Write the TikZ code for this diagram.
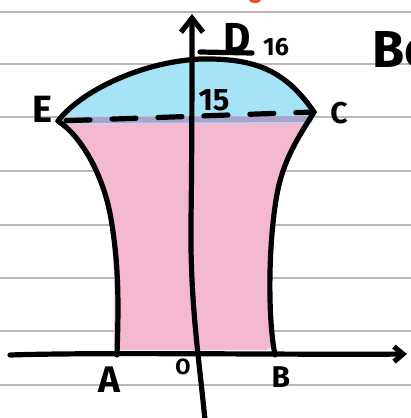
\documentclass[tikz,border=0pt]{standalone}
\usepackage{fontspec}
\setmainfont{Fira Sans}
\usetikzlibrary{arrows.meta}
\definecolor{pinkfill}{RGB}{244,184,208}
\definecolor{bluefill}{RGB}{166,227,247}
\definecolor{overlap}{RGB}{170,164,204}
\definecolor{ruled}{RGB}{185,185,185}
\definecolor{redmark}{RGB}{240,80,40}
\tikzset{
  ink/.style={line width=5.2pt, line cap=round, line join=round},
  lbl/.style={font=\bfseries\fontsize{#1}{#1}\selectfont, inner sep=0pt, anchor=base},
}
\begin{document}
\begin{tikzpicture}[x=1pt, y=-1pt, >=Straight Barb]
\useasboundingbox (0,0) rectangle (411,418);
\clip (0,0) rectangle (411,418);

% ruled paper
\foreach \y in {12,64,117,171,225,278,331,385}
  \draw[ruled, line width=1.2pt] (0,\y) -- (411,\y);
\fill[redmark] (255,0) ellipse (6 and 3);

\coordinate (A) at (117,355);
\coordinate (B) at (275,355);
\coordinate (E) at (58,121);
\coordinate (C) at (314,112);
\coordinate (D) at (200,59);
\coordinate (xs) at (10,355);
\coordinate (xe) at (407,354);
\coordinate (ys) at (205,420);
\coordinate (ye) at (192,14);

\fill[pinkfill, rounded corners=6pt] (56,121) .. controls (78,138) and (103,175) .. (110,225)
  .. controls (116,275) and (114,320) .. (114,350) -- (272,350)
  .. controls (268,320) and (268,250) .. (276,200)
  .. controls (282,160) and (300,135) .. (316,116) -- cycle;
\fill[bluefill] (E) .. controls (80,92) and (140,62) .. (D)
  .. controls (255,58) and (285,70) .. (C) -- (312,123) -- (62,124) -- cycle;
\fill[overlap] (64,117) -- (308,116) -- (309,122) -- (66,123) -- cycle;

% solid
\draw[ink] (E) .. controls (80,92) and (140,62) .. (D)
  .. controls (255,58) and (285,70) .. (C);
\draw[ink] (E) .. controls (80,135) and (105,175) .. (112,225)
  .. controls (120,275) and (118,320) .. (A);
\draw[ink] (C) .. controls (300,135) and (282,160) .. (276,200)
  .. controls (268,250) and (268,320) .. (B);
\draw[ink, dash pattern=on 24pt off 22pt, dash phase=-8pt] (E) -- (C);

% axes
\draw[ink, -{Straight Barb[length=9pt, width=15pt]}] (xs) .. controls (100,352) and (300,355) .. (xe);
\draw[ink, -{Straight Barb[length=14pt, width=22pt]}] (ys) .. controls (198,350) and (190,300) .. (191,220)
  .. controls (192,150) and (192,60) .. (ye);
\draw[ink] (200,52) -- (252,53);

\node[lbl=42] (lD) at (237,52) {D};
\node[lbl=25] (l16) at (276,55) {16};
\node[lbl=31] (l15) at (214,110) {15};
\node[lbl=38] (lE) at (42,122) {E};
\node[lbl=30] (lC) at (339,123) {C};
\node[lbl=37] (lA) at (109,392) {A};
\node[lbl=22] (lO) at (183,374) {O};
\node[lbl=30] (lB) at (281,387) {B};
\node[lbl=52, anchor=base west] (lBe) at (372,67) {Be};
\end{tikzpicture}
\end{document}
